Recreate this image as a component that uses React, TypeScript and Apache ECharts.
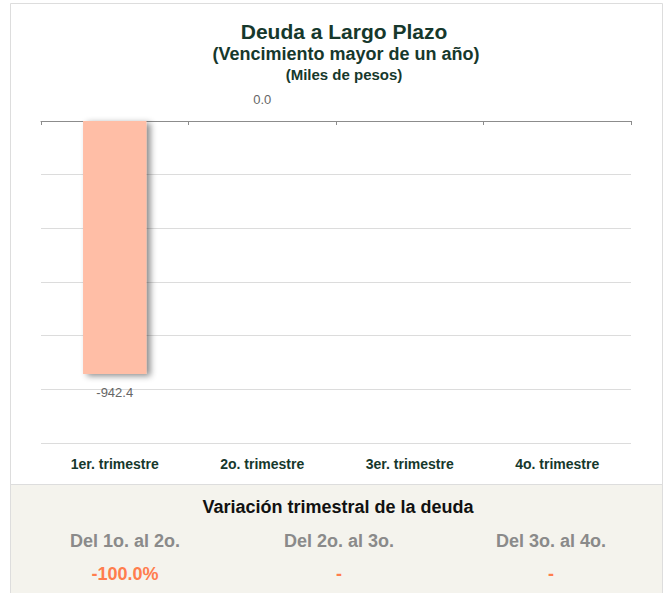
import React, { useEffect, useRef } from "react";
import * as echarts from "echarts";

const categories = ["1er. trimestre", "2o. trimestre", "3er. trimestre", "4o. trimestre"];
const values: (number | null)[] = [-942.4, 0, null, null];
const variationLabels = ["Del 1o. al 2o.", "Del 2o. al 3o.", "Del 3o. al 4o."];
const variationValues = ["-100.0%", "-", "-"];

const TITLE_COLOR = "#16382c";
const FONT = "'Liberation Sans', Arial, sans-serif";

export default function App() {
  const ref = useRef<HTMLDivElement>(null);
  useEffect(() => {
    if (!ref.current) return;
    const chart = echarts.init(ref.current, undefined, { renderer: "svg" });
    const colX = [125, 339, 551];
    const titleX = 339;
    const option: any = {
      animation: false,
      textStyle: { fontFamily: FONT },
      title: [
        { text: "Deuda a Largo Plazo", left: titleX, textAlign: "center", top: 16, textStyle: { fontSize: 21, fontWeight: "bold", color: TITLE_COLOR, fontFamily: FONT } },
        { text: "(Vencimiento mayor de un año)", left: titleX + 2, textAlign: "center", top: 40, textStyle: { fontSize: 18, fontWeight: "bold", color: TITLE_COLOR, fontFamily: FONT } },
        { text: "(Miles de pesos)", left: titleX, textAlign: "center", top: 62, textStyle: { fontSize: 15, fontWeight: "bold", color: TITLE_COLOR, fontFamily: FONT } },
      ],
      grid: { left: 41, right: 34, top: 121, bottom: 150 },
      xAxis: [
        {
          type: "category",
          data: categories,
          position: "bottom",
          axisLine: { show: false, onZero: false },
          axisTick: { show: false },
          axisLabel: { margin: 14, fontSize: 14, fontWeight: "bold", color: TITLE_COLOR, fontFamily: FONT },
        },
        {
          type: "category",
          data: categories,
          position: "top",
          axisLine: { show: true, onZero: false, lineStyle: { color: "#8c8c8c", width: 1 } },
          axisTick: { show: true, inside: true, length: 4, lineStyle: { color: "#8c8c8c" } },
          axisLabel: { show: false },
        },
      ],
      yAxis: {
        type: "value",
        min: -1200,
        max: 0,
        interval: 200,
        axisLabel: { show: false },
        axisLine: { show: false },
        axisTick: { show: false },
        splitLine: { lineStyle: { color: "#dcdcdc", width: 1 } },
      },
      series: [
        {
          type: "bar",
          xAxisIndex: 0,
          barWidth: "43%",
          data: values.map((v) =>
            v === null
              ? null
              : { value: v, label: { position: v < 0 ? "bottom" : "top", distance: v < 0 ? 12 : 15 } }
          ),
          itemStyle: {
            color: "#ffbea6",
            shadowColor: "rgba(0,0,0,0.45)",
            shadowBlur: 6,
            shadowOffsetX: 4,
            shadowOffsetY: 2,
          },
          label: {
            show: true,
            color: "#666666",
            fontSize: 13,
            fontFamily: FONT,
            formatter: (p: any) => Number(p.value).toFixed(1),
          },
        },
      ],
      graphic: [
        {
          type: "rect",
          z: -10,
          silent: true,
          shape: { x: 10.5, y: 3.5, width: 652, height: 620 },
          style: { fill: "#ffffff", stroke: "#dddddd", lineWidth: 1 },
        },
        {
          type: "rect",
          z: -9,
          silent: true,
          shape: { x: 10.5, y: 484.5, width: 652, height: 140 },
          style: { fill: "#f4f3ed", stroke: "#dddddd", lineWidth: 1 },
        },
        {
          type: "text",
          z: 5,
          x: 338,
          y: 507,
          style: {
            text: "Variación trimestral de la deuda",
            fontSize: 18,
            fontWeight: "bold",
            fill: "#111111",
            fontFamily: FONT,
            align: "center",
            verticalAlign: "middle",
          },
        },
        ...variationLabels.map((t, i) => ({
          type: "text",
          z: 5,
          x: colX[i],
          y: 541,
          style: { text: t, fontSize: 18, fontWeight: "bold", fill: "#8a8a8a", fontFamily: FONT, align: "center", verticalAlign: "middle" },
        })),
        ...variationValues.map((t, i) => ({
          type: "text",
          z: 5,
          x: colX[i],
          y: 574,
          style: { text: t, fontSize: 18, fontWeight: "bold", fill: "#ff7d4d", fontFamily: FONT, align: "center", verticalAlign: "middle" },
        })),
      ],
    };
    chart.setOption(option);
    return () => chart.dispose();
  }, []);
  return (
    <div
      ref={ref}
      style={{ position: "absolute", left: 0, top: 0, width: 665, height: 593 }}
    />
  );
}
